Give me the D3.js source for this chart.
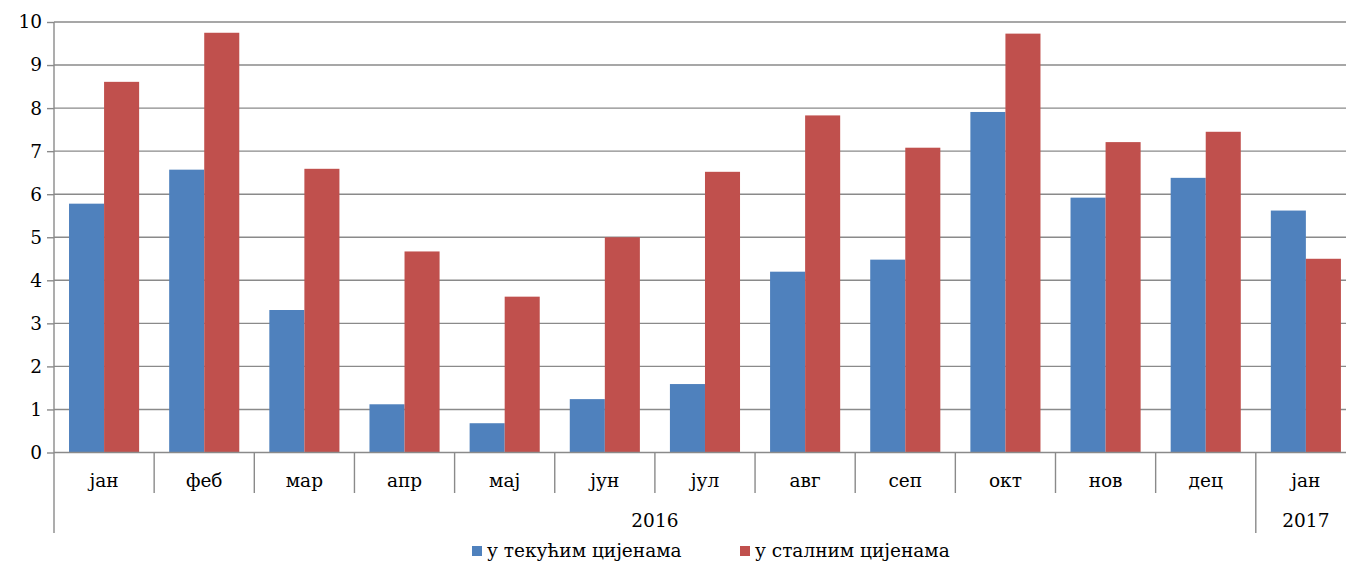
<!DOCTYPE html>
<html>
<head>
<meta charset="utf-8">
<script src="https://cdn.jsdelivr.net/npm/d3@7"></script>
<style>
  body { margin: 0; background: #fff; }
  svg { display: block; }
  text { font-family: "DejaVu Serif", serif; font-size: 18.5px; fill: #000; }
</style>
</head>
<body>
<div id="chart"></div>
<script>
// data
var months = ["јан", "феб", "мар", "апр", "мај", "јун", "јул", "авг", "сеп", "окт", "нов", "дец", "јан"];
var years = [{label: "2016", from: 0, to: 11}, {label: "2017", from: 12, to: 12}];
var seriesNames = ["у текућим цијенама", "у сталним цијенама"];
var current = [5.78, 6.57, 3.31, 1.12, 0.68, 1.24, 1.59, 4.2, 4.48, 7.91, 5.92, 6.38, 5.62];
var constant = [8.61, 9.75, 6.59, 4.67, 3.62, 5.0, 6.52, 7.83, 7.08, 9.73, 7.21, 7.45, 4.5];
var yTicks = [0, 1, 2, 3, 4, 5, 6, 7, 8, 9, 10];
var colors = ["#4F81BD", "#C0504D"];

var width = 1346, height = 561;
var plotLeft = 54, plotTop = 22, plotBottom = 452.5;
var band = 100.15;

var svg = d3.select("#chart").append("svg")
  .attr("width", width)
  .attr("height", height);

var idx = months.map(function(d, i) { return i; });

var x0 = d3.scaleBand()
  .domain(idx)
  .range([plotLeft, plotLeft + band * months.length])
  .padding(0);

var x1 = d3.scaleBand()
  .domain([0, 1])
  .range([0, x0.bandwidth()])
  .paddingInner(0)
  .paddingOuter(0.4286);

var y = d3.scaleLinear()
  .domain([0, 10])
  .range([plotBottom, plotTop]);

// gridlines
svg.append("g")
  .selectAll("line")
  .data(yTicks.slice(1))
  .enter().append("line")
    .attr("x1", plotLeft)
    .attr("x2", width)
    .attr("y1", function(d) { return y(d); })
    .attr("y2", function(d) { return y(d); })
    .attr("stroke", "#8a8a8a")
    .attr("stroke-width", 1.4);

// y axis
var yAxis = d3.axisLeft(y)
  .tickValues(yTicks)
  .tickSize(7)
  .tickPadding(5)
  .tickFormat(d3.format("d"));

var yg = svg.append("g")
  .attr("transform", "translate(" + plotLeft + ",0)")
  .call(yAxis);
yg.select(".domain").remove();
yg.selectAll(".tick line").attr("stroke", "#8a8a8a").attr("stroke-width", 1.4);
yg.selectAll("text")
  .style("font-family", "DejaVu Serif")
  .style("font-size", "18.5px")
  .attr("fill", "#000");

// bars
var data = idx.map(function(i) { return [current[i], constant[i]]; });

var groups = svg.append("g")
  .selectAll("g")
  .data(data)
  .enter().append("g")
    .attr("transform", function(d, i) { return "translate(" + x0(i) + ",0)"; });

groups.selectAll("rect")
  .data(function(d) { return d; })
  .enter().append("rect")
    .attr("x", function(d, j) { return x1(j); })
    .attr("width", x1.bandwidth())
    .attr("y", function(d) { return y(d); })
    .attr("height", function(d) { return plotBottom - y(d); })
    .attr("fill", function(d, j) { return colors[j]; });

// axis lines
svg.append("line")
  .attr("x1", plotLeft).attr("x2", plotLeft)
  .attr("y1", plotTop).attr("y2", 533)
  .attr("stroke", "#8a8a8a").attr("stroke-width", 1.4);

svg.append("line")
  .attr("x1", plotLeft).attr("x2", width)
  .attr("y1", plotBottom).attr("y2", plotBottom)
  .attr("stroke", "#8a8a8a").attr("stroke-width", 1.4);

// month separators
svg.append("g")
  .selectAll("line")
  .data(idx.slice(1))
  .enter().append("line")
    .attr("x1", function(i) { return x0(i); })
    .attr("x2", function(i) { return x0(i); })
    .attr("y1", plotBottom)
    .attr("y2", function(i) { return i === 12 ? 533 : 493; })
    .attr("stroke", "#8a8a8a").attr("stroke-width", 1.4);

// month labels
svg.append("g")
  .selectAll("text")
  .data(months)
  .enter().append("text")
    .attr("x", function(d, i) { return x0(i) + x0.bandwidth() / 2; })
    .attr("y", 487)
    .attr("text-anchor", "middle")
    .text(function(d) { return d; });

// year labels
svg.append("g")
  .selectAll("text")
  .data(years)
  .enter().append("text")
    .attr("x", function(d) { return (x0(d.from) + x0(d.to) + x0.bandwidth()) / 2; })
    .attr("y", 527)
    .attr("text-anchor", "middle")
    .text(function(d) { return d.label; });

// legend
var legend = svg.append("g")
  .selectAll("g")
  .data(seriesNames)
  .enter().append("g")
    .attr("transform", function(d, i) { return "translate(" + (472 + i * 268) + ",551)"; });

legend.append("rect")
  .attr("x", 0).attr("y", -5)
  .attr("width", 10).attr("height", 10)
  .attr("fill", function(d, i) { return colors[i]; });

legend.append("text")
  .attr("x", 15)
  .attr("y", 6)
  .text(function(d) { return d; });
</script>
</body>
</html>
